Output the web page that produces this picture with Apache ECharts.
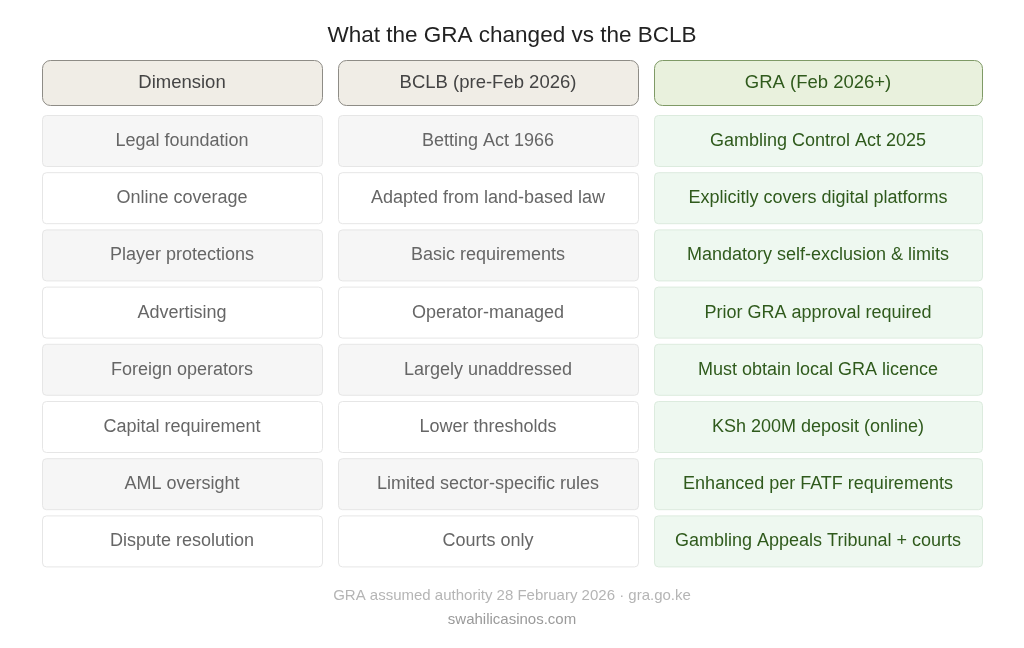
<!DOCTYPE html>
<html>
<head>
<meta charset="utf-8">
<script src="https://cdn.jsdelivr.net/npm/echarts@6/dist/echarts.min.js"></script>
<style>html,body{margin:0;padding:0;background:#fff}#chart{width:1024px;height:648px}</style>
</head>
<body>
<div id="chart"></div>
<script>
// table content
const headers = ['Dimension', 'BCLB (pre-Feb 2026)', 'GRA (Feb 2026+)'];
const dimensions = ['Legal foundation', 'Online coverage', 'Player protections', 'Advertising',
    'Foreign operators', 'Capital requirement', 'AML oversight', 'Dispute resolution'];
const bclb = ['Betting Act 1966', 'Adapted from land-based law', 'Basic requirements', 'Operator-managed',
    'Largely unaddressed', 'Lower thresholds', 'Limited sector-specific rules', 'Courts only'];
const gra = ['Gambling Control Act 2025', 'Explicitly covers digital platforms', 'Mandatory self-exclusion & limits',
    'Prior GRA approval required', 'Must obtain local GRA licence', 'KSh 200M deposit (online)',
    'Enhanced per FATF requirements', 'Gambling Appeals Tribunal + courts'];

// layout
const colX = [[42, 322], [338, 638], [654, 982]];
const headerY = [60, 105];
const rowTop = 115, rowH = 51, rowStep = 57.2;

const cells = [];
headers.forEach((h, c) => cells.push([c, -1, h]));
[dimensions, bclb, gra].forEach((col, c) => col.forEach((t, r) => cells.push([c, r, t])));

function renderCell(params, api) {
    const c = api.value(0), r = api.value(1), text = cells[params.dataIndex][2];
    const x0 = colX[c][0], x1 = colX[c][1];
    const y0 = r < 0 ? headerY[0] : rowTop + r * rowStep;
    const y1 = r < 0 ? headerY[1] : y0 + rowH;
    const p0 = api.coord([x0, y0]), p1 = api.coord([x1, y1]);
    let fill, stroke, color;
    if (r < 0) {
        fill = c === 2 ? '#e9f1dd' : '#f0ede6';
        stroke = c === 2 ? '#7f9a66' : '#8e8c86';
        color = c === 2 ? '#2f5a1c' : '#444';
    } else if (c === 2) {
        fill = '#eef8f0'; stroke = '#dcebde'; color = '#2f5a1c';
    } else {
        fill = r % 2 === 0 ? '#f6f6f6' : '#ffffff';
        stroke = '#e6e6e6'; color = '#666';
    }
    return {
        type: 'group',
        children: [{
            type: 'rect',
            shape: { x: p0[0] + 0.5, y: p0[1] + 0.5, width: p1[0] - p0[0], height: p1[1] - p0[1], r: r < 0 ? 8 : 4 },
            style: { fill: fill, stroke: stroke, lineWidth: 1 }
        }, {
            type: 'text',
            style: {
                text: text, x: (p0[0] + p1[0]) / 2, y: (p0[1] + p1[1]) / 2 + 0.5,
                align: 'center', verticalAlign: 'middle', fill: color,
                font: (r < 0 ? '18.5px' : '18px') + ' "Liberation Sans", Arial, sans-serif'
            }
        }]
    };
}

const chart = echarts.init(document.getElementById('chart'));
const ff = 'Liberation Sans, Arial, sans-serif';
chart.setOption({
    backgroundColor: '#fff',
    animation: false,
    title: [{
        text: 'What the GRA changed vs the BCLB', left: 'center', top: 19,
        textStyle: { fontSize: 22.5, fontWeight: 'normal', color: '#222', fontFamily: ff }
    }, {
        text: 'GRA assumed authority 28 February 2026 · gra.go.ke', left: 'center', top: 583,
        textStyle: { fontSize: 15, fontWeight: 'normal', color: '#b5b5b5', fontFamily: ff }
    }, {
        text: 'swahilicasinos.com', left: 'center', top: 607,
        textStyle: { fontSize: 15, fontWeight: 'normal', color: '#9a9a9a', fontFamily: ff }
    }],
    grid: { left: 0, right: 0, top: 0, bottom: 0 },
    xAxis: { type: 'value', min: 0, max: 1024, show: false },
    yAxis: { type: 'value', min: 0, max: 648, inverse: true, show: false },
    series: [{
        type: 'custom',
        renderItem: renderCell,
        data: cells.map(d => [d[0], d[1]])
    }]
});
</script>
</body>
</html>
